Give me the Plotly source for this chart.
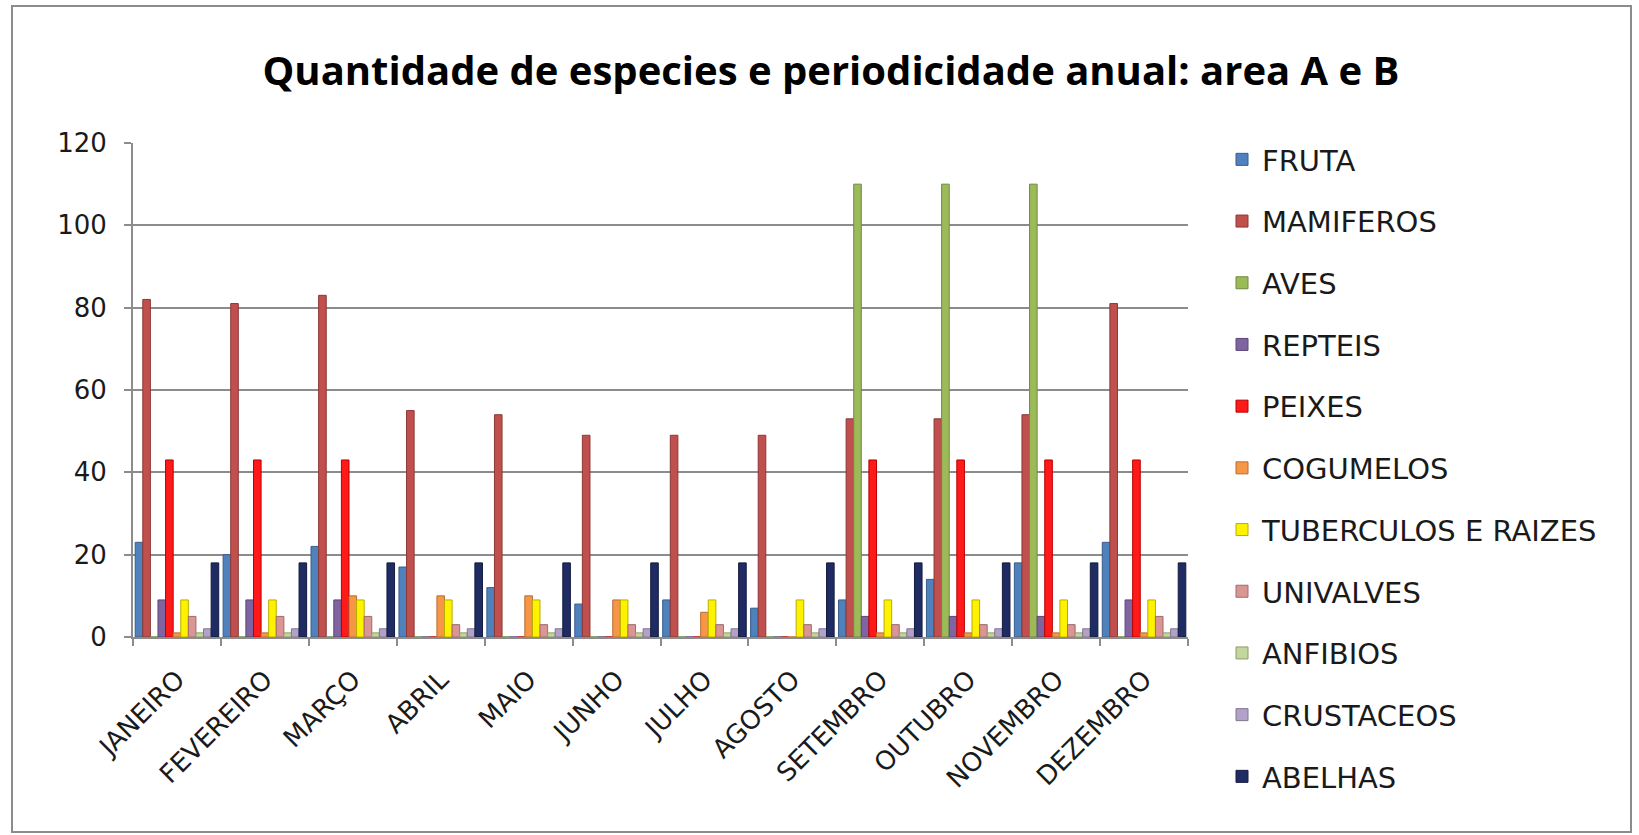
import plotly.graph_objects as go

# Months on the category axis
months = ["JANEIRO", "FEVEREIRO", "MARÇO", "ABRIL", "MAIO", "JUNHO",
          "JULHO", "AGOSTO", "SETEMBRO", "OUTUBRO", "NOVEMBRO", "DEZEMBRO"]

# Species counts per month, one list per group
fruta      = [23, 20, 22, 17, 12, 8, 9, 7, 9, 14, 18, 23]
mamiferos  = [82, 81, 83, 55, 54, 49, 49, 49, 53, 53, 54, 81]
aves       = [0, 0, 0, 0, 0, 0, 0, 0, 110, 110, 110, 0]
repteis    = [9, 9, 9, 0, 0, 0, 0, 0, 5, 5, 5, 9]
peixes     = [43, 43, 43, 0, 0, 0, 0, 0, 43, 43, 43, 43]
cogumelos  = [1, 1, 10, 10, 10, 9, 6, 0, 1, 1, 1, 1]
tuberculos = [9, 9, 9, 9, 9, 9, 9, 9, 9, 9, 9, 9]
univalves  = [5, 5, 5, 3, 3, 3, 3, 3, 3, 3, 3, 5]
anfibios   = [1, 1, 1, 1, 1, 1, 1, 1, 1, 1, 1, 1]
crustaceos = [2, 2, 2, 2, 2, 2, 2, 2, 2, 2, 2, 2]
abelhas    = [18, 18, 18, 18, 18, 18, 18, 18, 18, 18, 18, 18]

series = [
    ("FRUTA", fruta, "#4F81BD", "#385D8A"),
    ("MAMIFEROS", mamiferos, "#C0504D", "#8C3836"),
    ("AVES", aves, "#9BBB59", "#71893F"),
    ("REPTEIS", repteis, "#8064A2", "#5C4776"),
    ("PEIXES", peixes, "#FF1A1A", "#B80000"),
    ("COGUMELOS", cogumelos, "#F79646", "#B66D31"),
    ("TUBERCULOS E RAIZES", tuberculos, "#FFF200", "#B8AE00"),
    ("UNIVALVES", univalves, "#D99694", "#9E6B6A"),
    ("ANFIBIOS", anfibios, "#C3D69B", "#8E9C70"),
    ("CRUSTACEOS", crustaceos, "#B3A2C7", "#827591"),
    ("ABELHAS", abelhas, "#1F2C63", "#131B3E"),
]

W, H = 1639, 835
L, R, T, B = 133, 1188, 143, 637   # plot-area edges in pixels
TITLE_FONT = "Open Sans"
LABEL_FONT = "DejaVu Sans"


def px_x(p):
    return (p - L) / (R - L)


def px_y(p):
    return (B - p) / (B - T)


fig = go.Figure()
for name, vals, col, edge in series:
    fig.add_trace(go.Bar(
        name=name, x=months, y=vals,
        marker=dict(color=col, line=dict(color=edge, width=1)),
        legendgroup=name,
    ))

fig.update_layout(
    width=W, height=H,
    margin=dict(l=L, r=W - R, t=T, b=H - B, autoexpand=False),
    paper_bgcolor="white", plot_bgcolor="white",
    barmode="group", bargap=0.05, bargroupgap=0,
    font=dict(family=LABEL_FONT, color="#1A1A1A"),
    title=dict(
        text="<b>Quantidade de especies e periodicidade anual: area A e B</b>",
        x=831 / W, xanchor="center", xref="container",
        y=1 - 71 / H, yanchor="middle", yref="container",
        font=dict(family=TITLE_FONT, size=40, color="#000000"),
    ),
    xaxis=dict(
        type="category", tickangle=-45,
        showline=True, linecolor="#8C8C8C", linewidth=2,
        ticks="outside", tickson="boundaries", ticklen=7,
        tickcolor="#8C8C8C", tickwidth=2,
        ticklabelstandoff=15,
        tickfont=dict(family=LABEL_FONT, size=26, color="#1A1A1A"),
        showgrid=False,
    ),
    yaxis=dict(
        range=[0, 120], dtick=20, tick0=0,
        showline=True, linecolor="#8C8C8C", linewidth=2,
        ticks="outside", ticklen=7, tickcolor="#8C8C8C", tickwidth=2,
        ticklabelstandoff=12,
        showgrid=True, gridcolor="#8C8C8C", gridwidth=2,
        zeroline=False,
        tickfont=dict(family=LABEL_FONT, size=26, color="#1A1A1A"),
    ),
    legend=dict(
        x=px_x(1222), xanchor="left",
        y=px_y(134), yanchor="top",
        font=dict(family=LABEL_FONT, size=29, color="#1A1A1A"),
        tracegroupgap=21, traceorder="grouped",
        maxheight=820,
        bgcolor="rgba(0,0,0,0)",
    ),
    shapes=[dict(
        type="rect", xref="paper", yref="paper",
        x0=px_x(12), x1=px_x(1631), y0=px_y(832), y1=px_y(6),
        line=dict(color="#8C8C8C", width=2), fillcolor="rgba(0,0,0,0)",
        layer="below",
    )],
)

fig.write_html("out.html")
